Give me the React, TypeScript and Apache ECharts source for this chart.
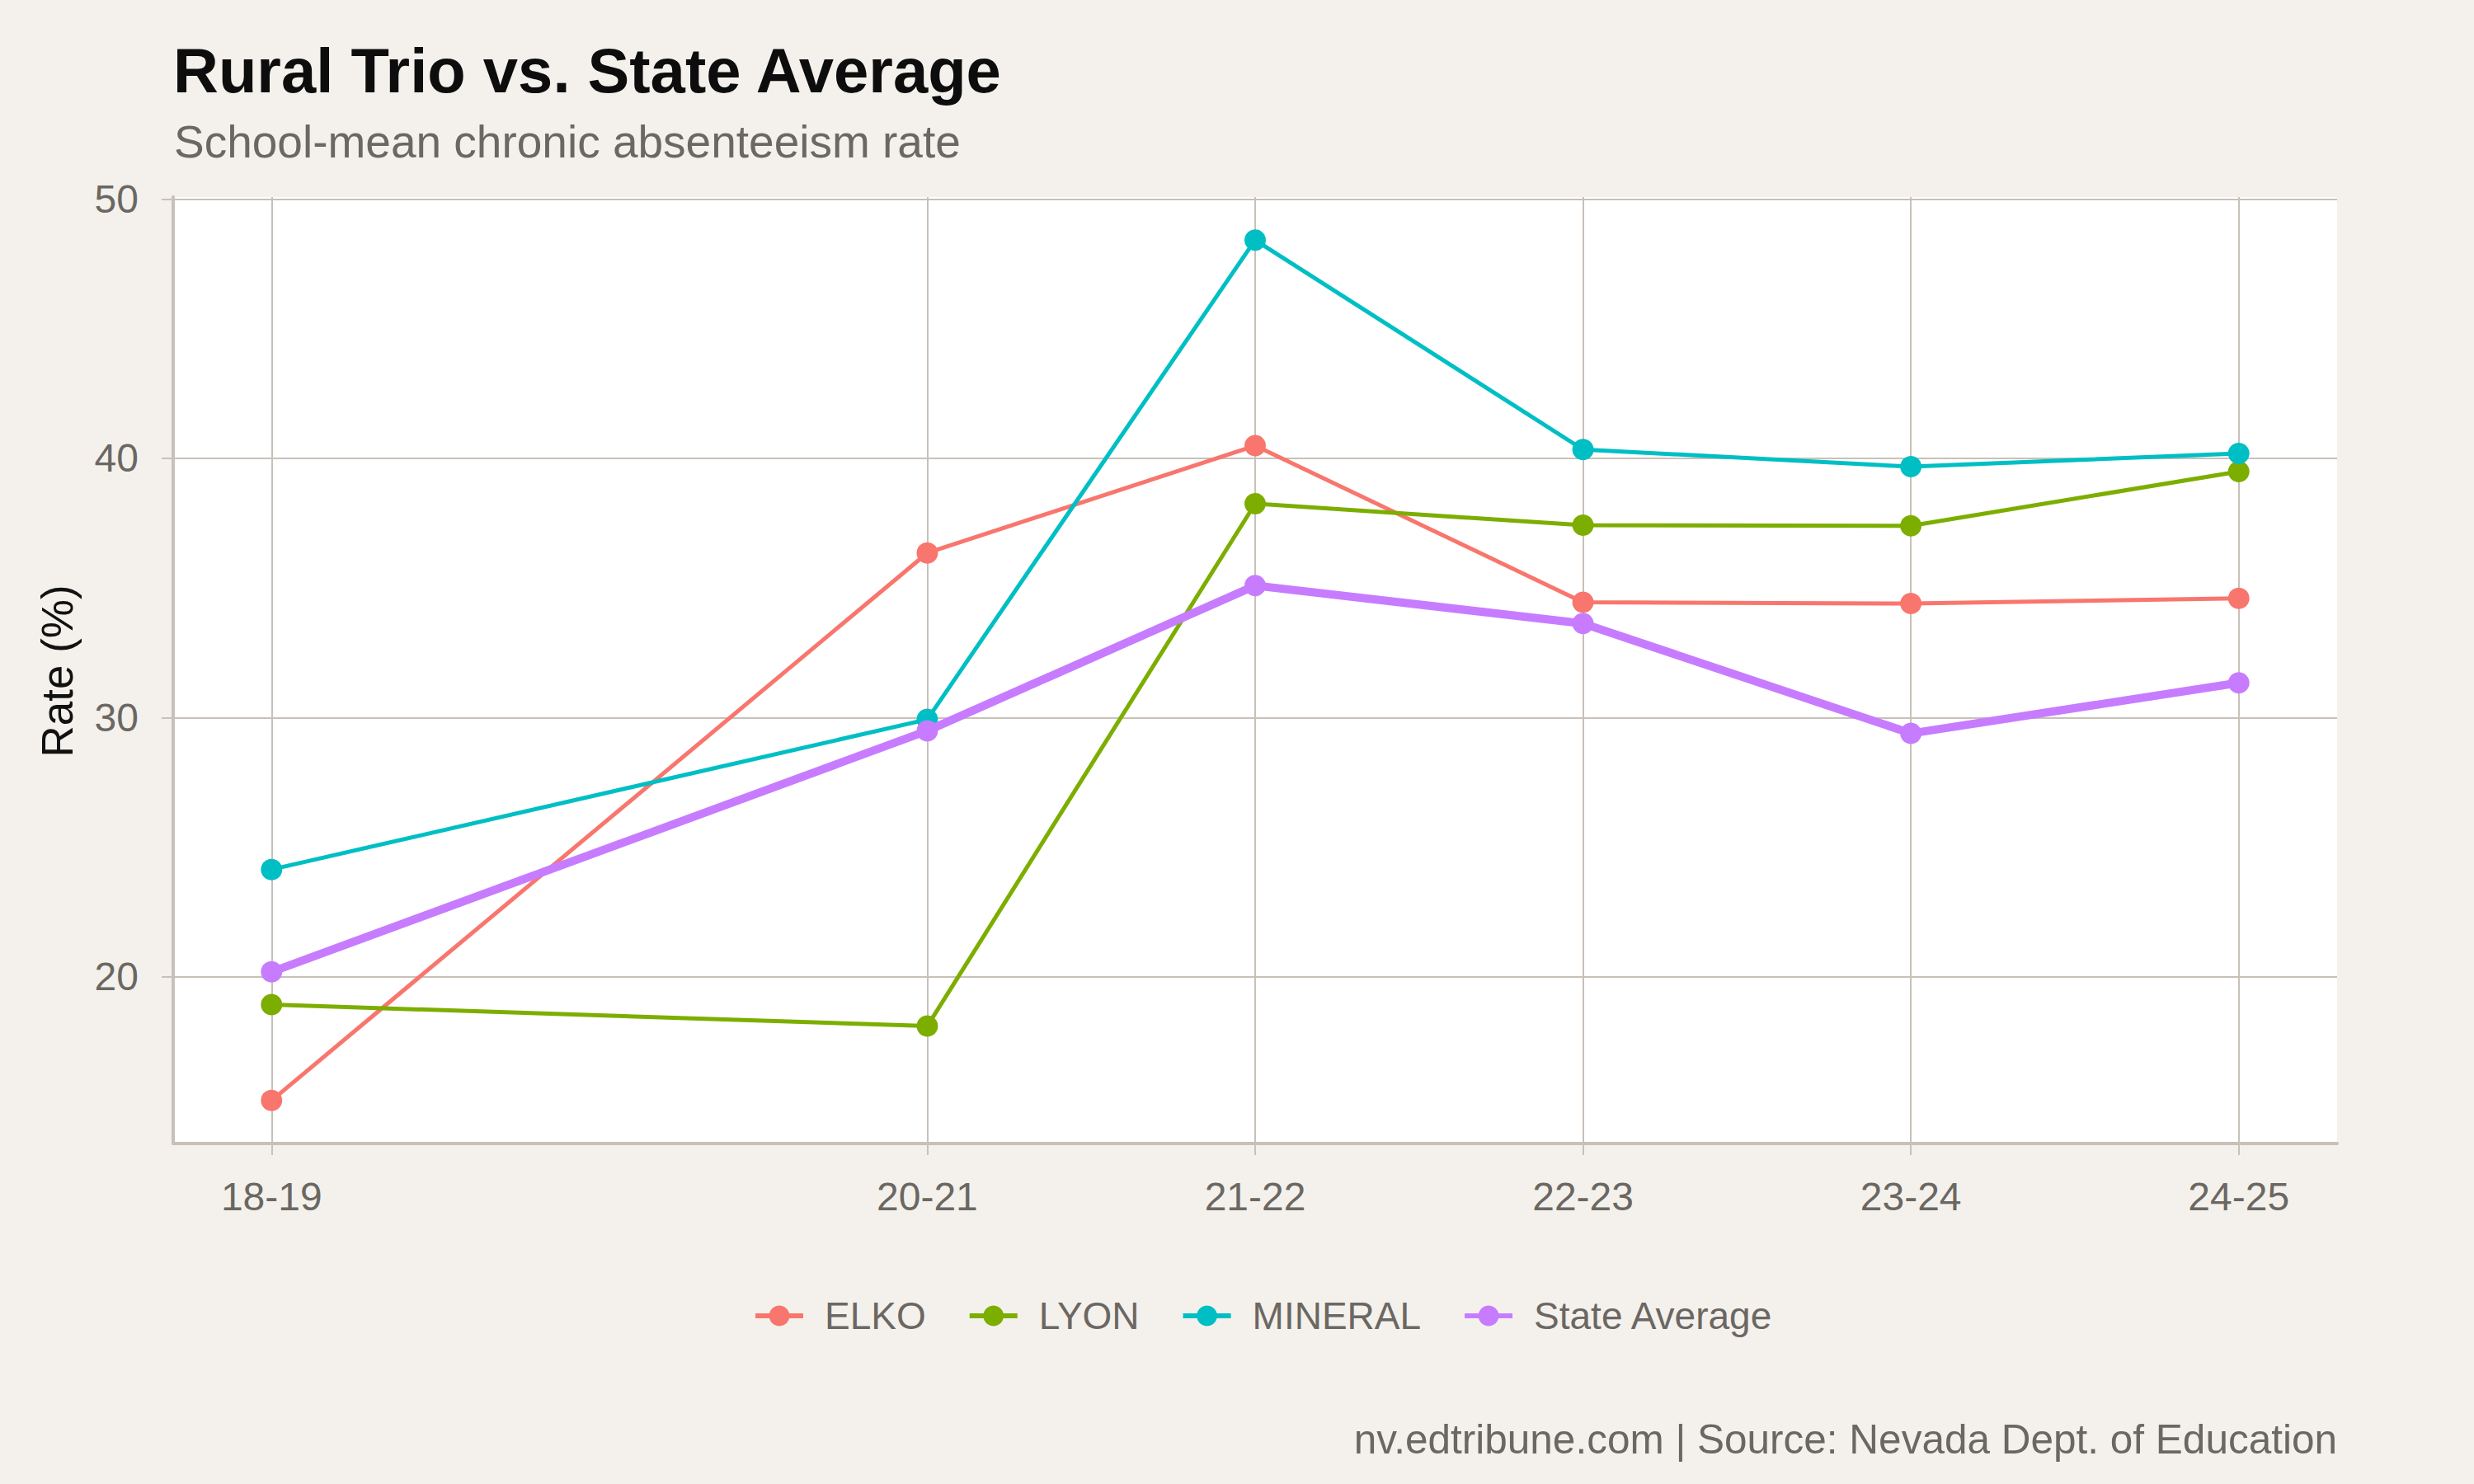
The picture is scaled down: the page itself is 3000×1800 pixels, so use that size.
import React, { useEffect, useRef } from "react";
import * as echarts from "echarts";

// School years shown on the x axis (gap for 19-20: no data that year)
const schoolYears = ["18-19", "20-21", "21-22", "22-23", "23-24", "24-25"];

// School-mean chronic absenteeism rate (%)
const elko = [15.23, 36.35, 40.49, 34.45, 34.4, 34.6];
const lyon = [18.93, 18.1, 38.25, 37.42, 37.4, 39.49];
const mineral = [24.14, 29.93, 48.42, 40.34, 39.68, 40.19];
const stateAverage = [20.19, 29.49, 35.09, 33.63, 29.39, 31.34];

const seriesNames = ["ELKO", "LYON", "MINERAL", "State Average"];
const seriesColors = ["#F8766D", "#7CAE00", "#00BFC4", "#C77CFF"];
const yTicks = [20, 30, 40, 50];

const FONT = "'Liberation Sans', Arial, Helvetica, sans-serif";
const GREY_TEXT = "#6B6762";
const RULE = "#C8C1B8";

// numeric start year of a season label such as "20-21"
const startYear = (s: string) => 2000 + parseInt(s.slice(0, 2), 10);
const xValues = schoolYears.map(startYear);

export default function App() {
  const ref = useRef<HTMLDivElement>(null);

  useEffect(() => {
    if (!ref.current) return;
    const chart = echarts.init(ref.current, null, { renderer: "svg" });

    const all = [...elko, ...lyon, ...mineral, ...stateAverage];
    const lo = Math.min(...all);
    const hi = Math.max(...all);
    const padY = (hi - lo) * 0.05;
    const xMin = Math.min(...xValues);
    const xMax = Math.max(...xValues);
    const padX = (xMax - xMin) * 0.05;

    const dataSets = [elko, lyon, mineral, stateAverage];

    chart.setOption({
      animation: false,
      backgroundColor: "#F4F1EC",
      textStyle: { fontFamily: FONT },
      grid: {
        left: 210,
        right: 166,
        top: 239,
        bottom: 413,
        show: true,
        backgroundColor: "#FFFFFF",
        borderWidth: 0,
      },
      xAxis: {
        type: "value",
        min: xMin - padX,
        max: xMax + padX,
        axisLine: { show: true, lineStyle: { color: RULE, width: 4 } },
        axisTick: {
          show: true,
          customValues: xValues,
          length: 14,
          lineStyle: { color: RULE, width: 2 },
        },
        axisLabel: {
          customValues: xValues,
          margin: 40,
          fontSize: 48,
          color: GREY_TEXT,
          fontFamily: FONT,
          formatter: (v: number) => {
            const i = xValues.indexOf(Math.round(v));
            return i >= 0 ? schoolYears[i] : "";
          },
        },
        splitLine: { show: true, lineStyle: { color: RULE, width: 2 } },
      },
      yAxis: {
        type: "value",
        min: lo - padY,
        max: hi + padY,
        axisLine: { show: true, lineStyle: { color: RULE, width: 4 } },
        axisTick: {
          show: true,
          customValues: yTicks,
          length: 14,
          lineStyle: { color: RULE, width: 2 },
        },
        axisLabel: {
          customValues: yTicks,
          margin: 42,
          fontSize: 48,
          color: GREY_TEXT,
          fontFamily: FONT,
        },
        splitLine: { show: true, lineStyle: { color: RULE, width: 2 } },
      },
      legend: {
        left: 908,
        top: 1568,
        orient: "horizontal",
        itemWidth: 58,
        itemHeight: 31,
        itemGap: 50,
        lineStyle: { width: 6 },
        itemStyle: { borderWidth: 0 },
        textStyle: {
          fontSize: 46,
          color: GREY_TEXT,
          fontFamily: FONT,
          padding: [0, 0, 0, 21],
        },
        data: seriesNames,
      },
      series: dataSets.map((vals, i) => ({
        name: seriesNames[i],
        type: "line",
        data: vals.map((v, j) => [xValues[j], v]),
        symbol: "circle",
        symbolSize: 26,
        color: seriesColors[i],
        itemStyle: { color: seriesColors[i] },
        lineStyle: {
          color: seriesColors[i],
          width: seriesNames[i] === "State Average" ? 10 : 5,
        },
        z: seriesNames[i] === "State Average" ? 3 : 2,
      })),
      graphic: [
        {
          type: "text",
          x: 210,
          y: 85,
          style: {
            text: "Rural Trio vs. State Average",
            fontSize: 76,
            fontWeight: "bold",
            fontFamily: FONT,
            fill: "#0D0D0D",
            textAlign: "left",
            textVerticalAlign: "middle",
          },
        },
        {
          type: "text",
          x: 211,
          y: 172,
          style: {
            text: "School-mean chronic absenteeism rate",
            fontSize: 55,
            fontFamily: FONT,
            fill: GREY_TEXT,
            textAlign: "left",
            textVerticalAlign: "middle",
          },
        },
        {
          type: "text",
          x: 69,
          y: 814,
          rotation: Math.PI / 2,
          style: {
            text: "Rate (%)",
            fontSize: 53,
            fontFamily: FONT,
            fill: "#111111",
            textAlign: "center",
            textVerticalAlign: "middle",
          },
        },
        {
          type: "text",
          x: 2834,
          y: 1745,
          style: {
            text: "nv.edtribune.com | Source: Nevada Dept. of Education",
            fontSize: 49.5,
            fontFamily: FONT,
            fill: GREY_TEXT,
            textAlign: "right",
            textVerticalAlign: "middle",
          },
        },
      ],
    });

    return () => chart.dispose();
  }, []);

  return (
    <div
      ref={ref}
      style={{ position: "absolute", left: 0, top: 0, width: 3000, height: 1800 }}
    />
  );
}
